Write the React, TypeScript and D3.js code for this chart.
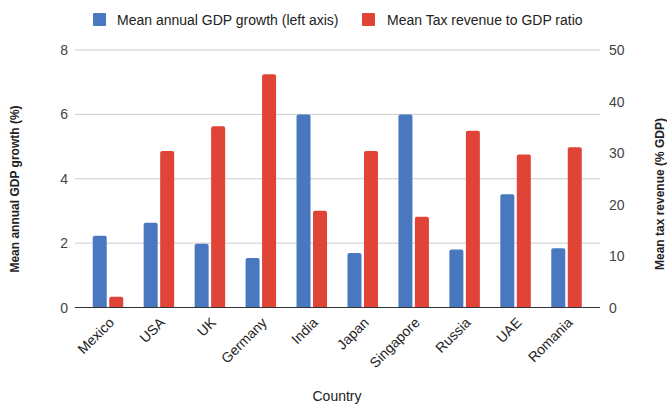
import React from "react";
import * as d3 from "d3";

const countries = ["Mexico", "USA", "UK", "Germany", "India", "Japan", "Singapore", "Russia", "UAE", "Romania"];
const gdpGrowth = [2.23, 2.63, 1.98, 1.54, 6.0, 1.69, 6.0, 1.8, 3.52, 1.84];
const taxRevenue = [2.1, 30.4, 35.2, 45.3, 18.8, 30.4, 17.6, 34.3, 29.7, 31.1];
const leftTicks = [0, 2, 4, 6, 8];
const rightTicks = [0, 10, 20, 30, 40, 50];
const legendLabels = ["Mean annual GDP growth (left axis)", "Mean Tax revenue to GDP ratio"];

const W = 667;
const H = 405;
const plotL = 75;
const plotR = 600;
const plotT = 50;
const plotB = 307.5;
const BLUE = "#4a78c0";
const RED = "#e04437";
const FONT = "'Liberation Sans', Arial, sans-serif";

function topRounded(x: number, y: number, w: number, h: number, r: number) {
  const rr = Math.min(r, h, w / 2);
  return `M${x},${y + h}V${y + rr}Q${x},${y} ${x + rr},${y}H${x + w - rr}Q${x + w},${y} ${x + w},${y + rr}V${y + h}Z`;
}

export default function App() {
  const x = d3.scaleBand<string>().domain(countries).range([82.5, 592]).paddingInner(0).paddingOuter(0);
  const yL = d3.scaleLinear().domain([0, 8]).range([plotB, plotT]);
  const yR = d3.scaleLinear().domain([0, 50]).range([plotB, plotT]);
  const barW = 14;
  const gap = 2.5;

  return (
    <svg width={W} height={H} style={{ position: "absolute", left: 0, top: 0, fontFamily: FONT }}>
      <rect x={0} y={0} width={W} height={H} fill="#fff" />
      {/* legend */}
      <rect x={93} y={13} width={13} height={13} fill={BLUE} rx={1} />
      <text x={117} y={25} fontSize={14} fill="#222">{legendLabels[0]}</text>
      <rect x={362} y={13} width={13} height={13} fill={RED} rx={1} />
      <text x={387} y={25} fontSize={14} fill="#222">{legendLabels[1]}</text>

      {/* gridlines */}
      {leftTicks.map((t) => (
        <line key={"g" + t} x1={plotL} x2={plotR} y1={yL(t)} y2={yL(t)} stroke="#cccccc" strokeWidth={1} />
      ))}
      {leftTicks.map((t) => (
        <text key={"l" + t} x={68} y={yL(t) + 5} fontSize={14} fill="#444" textAnchor="end">{t}</text>
      ))}
      {rightTicks.map((t) => (
        <text key={"r" + t} x={609} y={yR(t) + 5} fontSize={14} fill="#444" textAnchor="start">{t}</text>
      ))}

      {/* bars */}
      {countries.map((c, i) => {
        const cx = (x(c) as number) + x.bandwidth() / 2;
        const bx = cx - gap / 2 - barW;
        const rx = cx + gap / 2;
        const by = yL(gdpGrowth[i]);
        const ry = yR(taxRevenue[i]);
        return (
          <g key={c}>
            <path d={topRounded(bx, by, barW, plotB - by, 2)} fill={BLUE} />
            <path d={topRounded(rx, ry, barW, plotB - ry, 2)} fill={RED} />
            <text
              transform={`translate(${cx + 7},${plotB + 16}) rotate(-45)`}
              fontSize={14}
              fill="#222"
              textAnchor="end"
            >
              {c}
            </text>
          </g>
        );
      })}

      {/* baseline */}
      <line x1={plotL} x2={plotR} y1={plotB} y2={plotB} stroke="#333" strokeWidth={1} />

      {/* axis titles */}
      <text x={337} y={401} fontSize={14} fill="#222" textAnchor="middle">Country</text>
      <text transform={`translate(19,189) rotate(-90)`} fontSize={12} fontWeight="bold" fill="#222" textAnchor="middle">
        Mean annual GDP growth (%)
      </text>
      <text transform={`translate(664,194) rotate(-90)`} fontSize={12} fontWeight="bold" fill="#222" textAnchor="middle">
        Mean tax revenue (% GDP)
      </text>
    </svg>
  );
}
